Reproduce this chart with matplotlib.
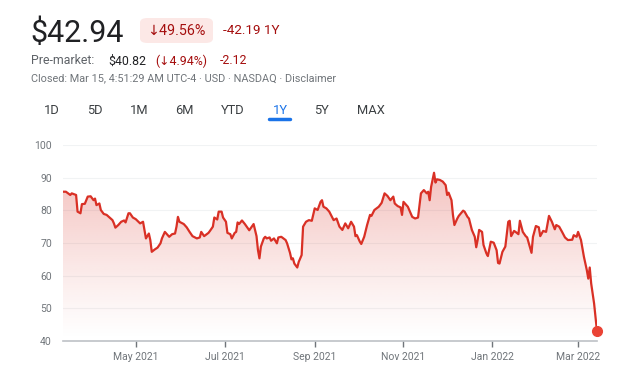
import numpy as np
import pandas as pd
import matplotlib
matplotlib.use("Agg")
import matplotlib.pyplot as plt
import matplotlib.dates as mdates
from matplotlib.patches import FancyBboxPatch, Polygon

plt.rcParams["font.family"] = ["Roboto", "DejaVu Sans"]

START_DATE = "2021-03-12"
# days after START_DATE
DAYS = [0, 2, 5, 6, 9, 10, 12, 13, 15, 17, 19, 21, 22, 23, 25, 26, 28, 30, 32, 34,
        35, 36, 38, 40, 42, 43, 45, 46, 48, 50, 53, 55, 56, 57, 59, 60, 61, 63, 65, 67,
        68, 70, 71, 73, 75, 77, 78, 79, 80, 83, 85, 87, 89, 92, 94, 95, 97, 100, 101, 103,
        104, 106, 107, 109, 110, 112, 113, 115, 116, 118, 119, 120, 121, 123, 125, 127, 128, 130, 131, 133,
        134, 135, 136, 138, 139, 140, 142, 143, 145, 147, 148, 150, 153, 154, 156, 157, 158, 159, 161, 162,
        164, 165, 167, 169, 171, 173, 175, 177, 178, 179, 181, 183, 186, 188, 190, 192, 194, 196, 198, 200,
        201, 202, 204, 205, 207, 209, 211, 212, 214, 217, 219, 221, 223, 225, 227, 228, 230, 232, 233, 234,
        236, 237, 240, 242, 244, 246, 248, 250, 251, 252, 253, 255, 256, 257, 259, 261, 263, 264, 265, 267,
        268, 269, 271, 272, 275, 276, 278, 279, 281, 283, 284, 285, 286, 288, 289, 291, 292, 294, 296, 298,
        299, 300, 302, 304, 306, 307, 308, 310, 311, 313, 314, 316, 318, 319, 322, 323, 325, 327, 328, 330,
        332, 334, 336, 338, 339, 341, 343, 345, 347, 350, 351, 353, 354, 356, 358, 360, 361, 362, 363, 365,
        367]
PRICES = [85.7, 85.7, 84.7, 85.2, 84.7, 79.6, 79.1, 81.9, 82.0, 84.2, 84.3, 83.1, 83.6, 81.6, 82.1, 80.1, 78.9, 78.6, 77.8, 77.0,
          76.0, 74.7, 75.5, 76.5, 76.9, 76.3, 79.1, 79.1, 77.8, 77.3, 76.0, 76.5, 74.0, 71.4, 72.9, 70.9, 67.3, 68.0, 68.6, 69.9,
          71.4, 73.4, 72.9, 71.9, 72.7, 72.9, 75.0, 78.0, 76.5, 75.8, 74.8, 73.4, 72.1, 71.4, 71.7, 73.4, 72.1, 73.1, 73.7, 75.0,
          77.8, 77.2, 79.6, 79.6, 77.8, 76.5, 73.1, 72.7, 71.4, 73.1, 73.4, 76.3, 75.8, 76.9, 75.8, 74.5, 73.9, 75.2, 75.8, 72.1,
          67.8, 65.3, 68.9, 71.4, 71.9, 71.4, 71.7, 70.7, 71.4, 69.9, 71.7, 71.9, 70.9, 69.9, 67.0, 65.0, 65.3, 63.7, 62.5, 64.2,
          66.3, 75.0, 76.5, 77.0, 76.8, 80.6, 80.1, 82.6, 83.1, 81.1, 80.6, 79.6, 77.0, 77.5, 75.0, 74.0, 76.0, 74.5, 76.5, 75.0,
          72.1, 72.4, 70.4, 69.7, 71.9, 75.5, 78.6, 78.3, 80.1, 81.1, 82.3, 85.2, 84.4, 83.1, 84.2, 82.1, 81.3, 80.9, 78.6, 82.6,
          81.6, 81.1, 78.0, 77.5, 77.8, 85.2, 86.2, 85.2, 85.7, 83.1, 87.2, 91.5, 88.5, 89.5, 89.3, 88.8, 87.7, 84.7, 85.4, 83.1,
          78.6, 75.5, 77.5, 78.3, 79.9, 79.6, 78.0, 77.5, 74.0, 71.9, 68.7, 71.0, 74.0, 73.4, 69.4, 66.8, 66.0, 70.4, 70.1, 67.8,
          63.9, 63.7, 67.3, 68.9, 76.5, 76.8, 72.1, 73.7, 73.4, 72.7, 76.8, 73.4, 72.1, 71.7, 67.0, 71.9, 75.2, 74.8, 72.1, 73.7,
          73.4, 78.3, 76.5, 74.2, 75.5, 75.0, 73.4, 71.7, 70.9, 71.0, 72.4, 71.9, 73.4, 70.9, 65.8, 61.7, 59.1, 62.5, 57.6, 51.5,
          42.94]
assert len(DAYS) == len(PRICES)

Y_TICKS = [40, 50, 60, 70, 80, 90, 100]
X_TICKS = ["2021-05-01", "2021-07-01", "2021-09-01", "2021-11-01", "2022-01-01", "2022-03-01"]
X_LABELS = ["May 2021", "Jul 2021", "Sep 2021", "Nov 2021", "Jan 2022", "Mar 2022"]
TABS = ["1D", "5D", "1M", "6M", "YTD", "1Y", "5Y", "MAX"]
TAB_X = [52, 95, 139, 184, 233, 280, 321, 371]

RED = "#d93025"
DARK_RED = "#a50e0e"
W, H = 640, 383

dates = pd.Timestamp(START_DATE) + pd.to_timedelta(DAYS, unit="D")
xs = mdates.date2num(dates.to_pydatetime())
ys = np.array(PRICES)

fig = plt.figure(figsize=(W / 100, H / 100), dpi=100)
ax = fig.add_axes([63 / W, 1 - 341 / H, (597 - 63) / W, (341 - 145) / H])

# gradient fill under the line
grad = np.linspace(0.0, 1.0, 256).reshape(-1, 1)
rgba = np.zeros((256, 1, 4))
rgba[..., :3] = matplotlib.colors.to_rgb(RED)
rgba[..., 3] = grad ** 1.2 * 0.3
img = ax.imshow(rgba, extent=[xs[0], xs[-1], 40, 92], origin="lower",
                aspect="auto", zorder=1, interpolation="bilinear")
poly = Polygon(np.column_stack([np.r_[xs, xs[-1], xs[0]], np.r_[ys, 40, 40]]),
               closed=True, facecolor="none", edgecolor="none")
ax.add_patch(poly)
img.set_clip_path(poly)

ax.plot(xs, ys, color=RED, lw=1.6, zorder=3, solid_joinstyle="round")
ax.plot(xs[-1], ys[-1], "o", color="#ea4335", ms=7, zorder=4, clip_on=False)

ax.set_xlim(xs[0], xs[-1])
ax.set_ylim(40, 100)
ax.set_yticks(Y_TICKS)
for v in Y_TICKS[1:]:
    ax.axhline(v, color="#f1f3f4", lw=0.8, zorder=0)
ax.set_xticks(mdates.date2num(pd.to_datetime(X_TICKS).to_pydatetime()))
ax.set_xticklabels(X_LABELS)
for s in ["top", "right", "left"]:
    ax.spines[s].set_visible(False)
ax.spines["bottom"].set_color("#bdc1c6")
ax.spines["bottom"].set_linewidth(1.2)
ax.tick_params(axis="x", length=4, width=1, color="#70757a", labelsize=7.5,
               labelcolor="#70757a", pad=4)
ax.tick_params(axis="y", length=0, labelsize=7.5, labelcolor="#70757a", pad=8)

# header
def px(x, y):
    return x / W, 1 - y / H

fig.text(*px(30, 33), "$42.94", fontsize=22, color="#202124", va="center")
badge = FancyBboxPatch(px(140, 43), 73 / W, 25 / H, boxstyle="round,pad=0,rounding_size=0.012",
                       transform=fig.transFigure, facecolor="#fce8e6", edgecolor="none")
fig.patches.append(badge)
fig.text(*px(147, 31), "↓49.56%", fontsize=10.3, color=DARK_RED, va="center")
fig.text(*px(223, 31), "-42.19 1Y", fontsize=9.7, color=DARK_RED, va="center")

fig.text(*px(31, 61), "Pre-market:", fontsize=8.9, color="#5f6368", va="center")
fig.text(*px(108, 61), "$40.82", fontsize=8.9, color="#202124", va="center")
fig.text(*px(155, 61), "(↓4.94%)", fontsize=8.9, color=DARK_RED, va="center")
fig.text(*px(220, 61), "-2.12", fontsize=8.9, color=DARK_RED, va="center")
fig.text(*px(31, 78.5), "Closed: Mar 15, 4:51:29 AM UTC-4 · USD · NASDAQ · Disclaimer",
         fontsize=7.8, color="#70757a", va="center")

for label, x in zip(TABS, TAB_X):
    color = "#1a73e8" if label == "1Y" else "#3c4043"
    fig.text(*px(x, 110), label, fontsize=9.3, color=color, ha="center", va="center")
fig.add_artist(plt.Line2D([269 / W, 290 / W], [1 - 118.5 / H] * 2, color="#1a73e8", lw=2.5,
                          solid_capstyle="round", transform=fig.transFigure))

fig.savefig("out.png", dpi=100, facecolor="white")
